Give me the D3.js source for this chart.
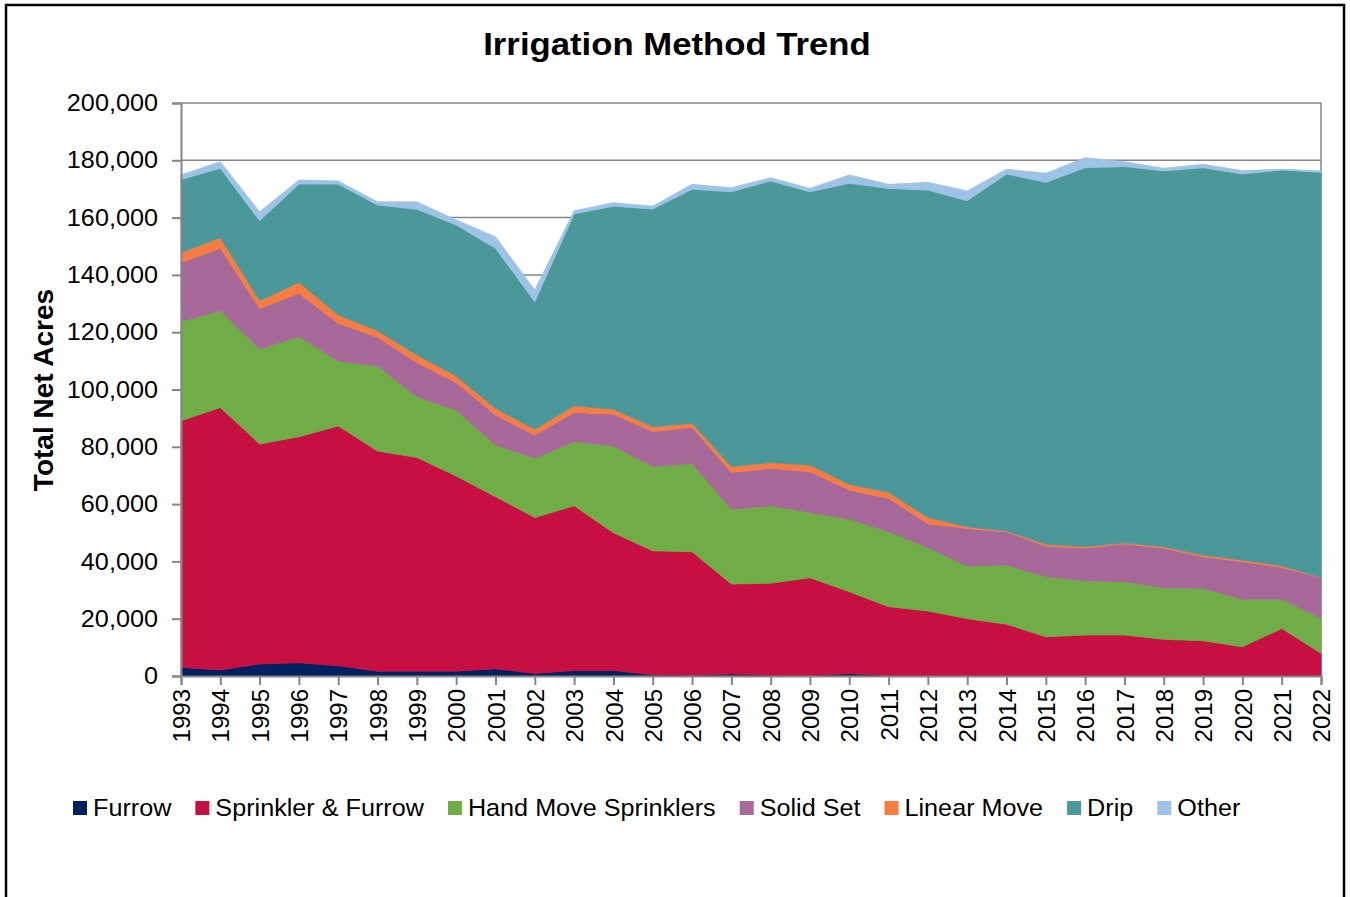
<!DOCTYPE html>
<html>
<head>
<meta charset="utf-8">
<script src="https://cdn.jsdelivr.net/npm/d3@7"></script>
<style>
  body { margin: 0; background: #fff; }
  svg { display: block; font-family: "Liberation Sans", Arial, sans-serif; }
</style>
</head>
<body>
<svg id="chart" width="1350" height="897"></svg>
<script>
const years = d3.range(1993, 2023);

const series = ["Furrow", "Sprinkler & Furrow", "Hand Move Sprinklers", "Solid Set", "Linear Move", "Drip", "Other"];
const colors = ["#002060", "#C80F41", "#70AD47", "#A66999", "#F77C42", "#4A9899", "#9DC3E6"];

// acres per method, 1993..2022
const furrow = [3000, 2100, 4200, 4600, 3600, 1700, 1700, 1700, 2500, 900, 1900, 1900, 400, 300, 700, 300, 200, 800, 200, 200, 200, 200, 200, 200, 200, 200, 200, 200, 200, 200];
const sprinklerFurrow = [86100, 91600, 76800, 78900, 83700, 76800, 74600, 68100, 60100, 54400, 57500, 48100, 43300, 43100, 31400, 32100, 34100, 28600, 24000, 22500, 19800, 17900, 13500, 14100, 14100, 12600, 12100, 10000, 16400, 7700];
const handMove = [34600, 33800, 33100, 34900, 22600, 29700, 21200, 23000, 18000, 20700, 22400, 30300, 29400, 30800, 26100, 27000, 22800, 25300, 26200, 22100, 18400, 20600, 21000, 18900, 18600, 18000, 18300, 16600, 10200, 12200];
const solidSet = [20600, 21800, 14200, 15200, 13200, 10000, 11900, 9600, 10500, 8100, 10200, 11100, 12200, 12600, 12900, 13100, 14200, 10200, 11600, 8300, 13100, 11600, 10600, 11400, 13200, 13800, 11000, 13100, 11100, 14200];
const linearMove = [3500, 3700, 2700, 3800, 2900, 2300, 2600, 2300, 2300, 2000, 2300, 1700, 1700, 1400, 2000, 2000, 2300, 2000, 2100, 2200, 600, 300, 700, 500, 400, 500, 600, 600, 600, 100];
const drip = [25500, 24200, 27900, 34300, 45700, 43900, 50900, 52700, 55900, 44500, 67000, 70900, 76000, 81700, 95900, 98300, 95400, 105100, 106100, 114300, 113800, 124600, 126300, 132300, 131300, 131200, 135200, 134700, 138100, 141400];
const other = [1600, 2300, 3100, 1400, 1100, 1100, 2600, 1800, 4000, 4100, 1100, 1200, 1000, 1700, 1400, 1100, 1200, 2900, 1400, 2700, 3400, 1700, 3200, 3500, 1700, 900, 1200, 1200, 300, 500];

const yTicks = d3.range(0, 200001, 20000);

const columns = [furrow, sprinklerFurrow, handMove, solidSet, linearMove, drip, other];
const rows = years.map((yr, i) => {
  const r = { year: yr };
  series.forEach((s, k) => { r[s] = columns[k][i]; });
  return r;
});

const svg = d3.select("#chart");
const plotLeft = 181, plotRight = 1321, plotTop = 103, plotBottom = 676;
const stretch = 1.05; // text in the original is a bit wider than Arial

// outer frame
svg.append("rect")
  .attr("x", 6).attr("y", 5)
  .attr("width", 1338).attr("height", 905)
  .attr("fill", "none").attr("stroke", "#000").attr("stroke-width", 2.5);

const x = d3.scalePoint().domain(years).range([plotLeft, plotRight]);
const y = d3.scaleLinear().domain([0, 200000]).range([plotBottom, plotTop]);

// gridlines
svg.append("g")
  .selectAll("line")
  .data(yTicks.slice(1))
  .join("line")
  .attr("x1", plotLeft).attr("x2", plotRight)
  .attr("y1", d => y(d)).attr("y2", d => y(d))
  .attr("stroke", "#868686").attr("stroke-width", 1.5);

svg.append("line")
  .attr("x1", plotRight).attr("x2", plotRight)
  .attr("y1", plotTop).attr("y2", plotBottom)
  .attr("stroke", "#868686").attr("stroke-width", 1.5);

const stacked = d3.stack().keys(series)(rows);

const area = d3.area()
  .x(d => x(d.data.year))
  .y0(d => y(d[0]))
  .y1(d => y(d[1]));

svg.append("g")
  .selectAll("path")
  .data(stacked)
  .join("path")
  .attr("d", area)
  .attr("fill", (d, i) => colors[i])
  .attr("stroke", (d, i) => colors[i])
  .attr("stroke-width", 0.8);

// y axis
const yAxis = svg.append("g")
  .attr("transform", `translate(${plotLeft},0)`)
  .call(d3.axisLeft(y).tickValues(yTicks).tickSize(9).tickPadding(13)
    .tickFormat(d3.format(",")));
yAxis.select(".domain").attr("stroke", "#868686").attr("stroke-width", 2);
yAxis.selectAll(".tick line").attr("stroke", "#868686").attr("stroke-width", 2);
yAxis.selectAll(".tick text")
  .attr("font-size", 24).attr("fill", "#000")
  .attr("font-family", "Liberation Sans, Arial, sans-serif")
  .attr("transform", `scale(${stretch},1)`);

// x axis
const xAxis = svg.append("g")
  .attr("transform", `translate(0,${plotBottom})`)
  .call(d3.axisBottom(x).tickSize(9).tickPadding(0));
xAxis.select(".domain").attr("stroke", "#868686").attr("stroke-width", 2);
xAxis.selectAll(".tick line").attr("stroke", "#868686").attr("stroke-width", 2);
xAxis.selectAll(".tick text")
  .attr("font-size", 24).attr("fill", "#000")
  .attr("font-family", "Liberation Sans, Arial, sans-serif")
  .attr("text-anchor", "end")
  .attr("transform", "translate(0,13) rotate(-90)")
  .attr("x", 0).attr("y", 0).attr("dy", "0.36em");

// title
svg.append("text")
  .attr("transform", "translate(677,55) scale(1.085,1)")
  .attr("text-anchor", "middle")
  .attr("font-size", 32).attr("font-weight", "bold")
  .text("Irrigation Method Trend");

// y label
svg.append("text")
  .attr("transform", "translate(53,390) rotate(-90)")
  .attr("text-anchor", "middle")
  .attr("font-size", 28).attr("font-weight", "bold")
  .text("Total Net Acres");

// legend
const legend = svg.append("g");
let lx = 73;
series.forEach((s, i) => {
  legend.append("rect")
    .attr("x", lx).attr("y", 801)
    .attr("width", 14).attr("height", 14)
    .attr("fill", colors[i]);
  const t = legend.append("text")
    .attr("transform", `translate(${lx + 20},816) scale(${stretch},1)`)
    .attr("font-size", 24)
    .text(s);
  lx += 20 + t.node().getComputedTextLength() * stretch + 24;
});
</script>
</body>
</html>
